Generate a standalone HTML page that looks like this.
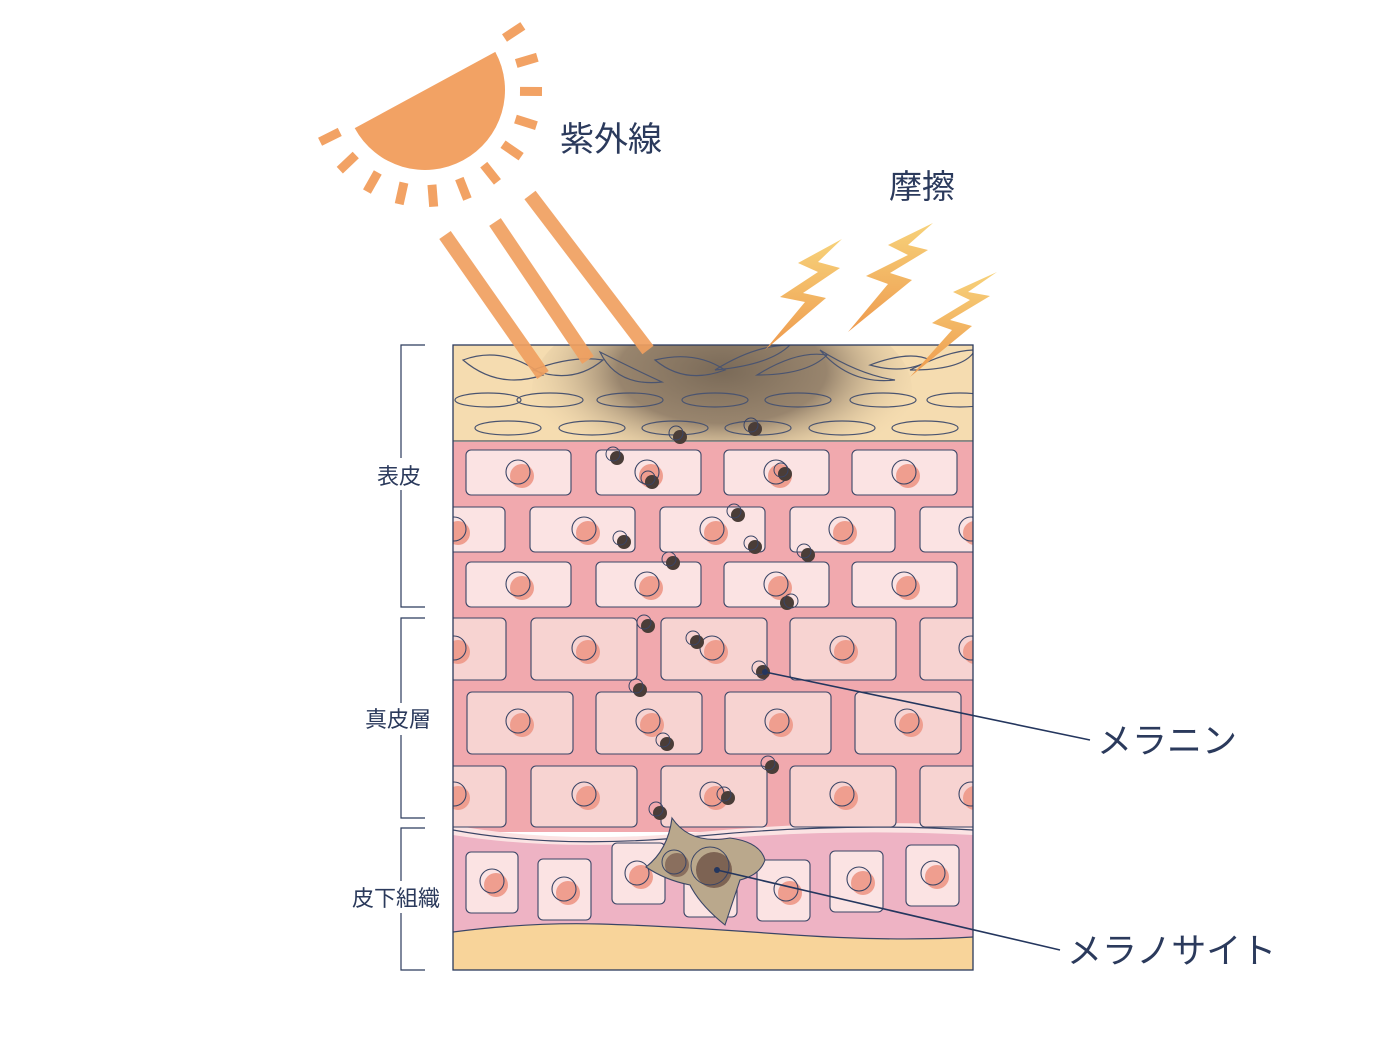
<!DOCTYPE html>
<html><head><meta charset="utf-8"><style>
html,body{margin:0;padding:0;background:#fff}
svg{display:block}
text{font-family:"Liberation Sans","Noto Sans CJK JP",sans-serif;fill:#2b3a5c}
</style></head><body>
<svg width="1400" height="1050" viewBox="0 0 1400 1050" xmlns="http://www.w3.org/2000/svg">
<defs>
<linearGradient id="bolt" x1="0" y1="0" x2="0" y2="1"><stop offset="0" stop-color="#f7d27a"/><stop offset="1" stop-color="#ee9a4e"/></linearGradient>
<radialGradient id="dark" cx="0.5" cy="0.4" r="0.55"><stop offset="0" stop-color="#7a6a58" stop-opacity="1"/><stop offset="0.5" stop-color="#8e7b66" stop-opacity="0.9"/><stop offset="1" stop-color="#f5dcb0" stop-opacity="0"/></radialGradient>
<clipPath id="box"><rect x="453" y="345" width="520" height="625"/></clipPath>
<clipPath id="top"><rect x="453" y="345" width="520" height="96"/></clipPath>
</defs>

<!-- sun -->
<g transform="translate(425,90) rotate(-28.5)">
<path d="M-80,0 A80,80 0 0 0 80,0 Z" fill="#f2a264"/>
<g fill="#f2a264">
<rect x="95" y="-4" width="22" height="9" transform="rotate(-5)"/>
<rect x="95" y="-4" width="22" height="9" transform="rotate(12)"/>
<rect x="95" y="-4" width="22" height="9" transform="rotate(29)"/>
<rect x="95" y="-4" width="22" height="9" transform="rotate(46)"/>
<rect x="95" y="-4" width="22" height="9" transform="rotate(63)"/>
<rect x="95" y="-4" width="22" height="9" transform="rotate(80)"/>
<rect x="95" y="-4" width="22" height="9" transform="rotate(97)"/>
<rect x="95" y="-4" width="22" height="9" transform="rotate(114)"/>
<rect x="95" y="-4" width="22" height="9" transform="rotate(131)"/>
<rect x="95" y="-4" width="22" height="9" transform="rotate(148)"/>
<rect x="95" y="-4" width="22" height="9" transform="rotate(165)"/>
<rect x="95" y="-4" width="22" height="9" transform="rotate(182)"/>
</g>
</g>
<text x="560" y="151" font-size="34">紫外線</text>
<text x="889" y="198" font-size="33">摩擦</text>

<!-- skin -->
<g clip-path="url(#box)">
<rect x="453" y="345" width="520" height="96" fill="#f5dcb0"/>
<g clip-path="url(#top)"><ellipse cx="722" cy="390" rx="190" ry="95" fill="url(#dark)"/></g>
<g fill="none" stroke="#4a5470" stroke-width="1.2">
<path d="M463,360 q40,-15 80,15 q-45,15 -80,-15z"/><path d="M533,370 q40,-15 70,-10 q-30,25 -70,10z"/>
<path d="M600,352 q40,20 62,30 q-45,5 -62,-30z"/><path d="M655,360 q40,-10 70,10 q-40,15 -70,-10z"/>
<path d="M715,370 q40,-25 75,-25 q-20,20 -75,25z"/><path d="M757,375 q40,-25 70,-20 q-20,20 -70,20z"/>
<path d="M820,350 q40,25 75,30 q-45,5 -75,-30z"/><path d="M870,365 q40,-15 60,-5 q-25,15 -60,5z"/><path d="M910,370 q40,-20 65,-20 q-10,20 -65,20z"/>
<ellipse cx="488" cy="400" rx="33" ry="7"/><ellipse cx="550" cy="400" rx="33" ry="7"/><ellipse cx="630" cy="400" rx="33" ry="7"/><ellipse cx="715" cy="400" rx="33" ry="7"/><ellipse cx="798" cy="400" rx="33" ry="7"/><ellipse cx="883" cy="400" rx="33" ry="7"/><ellipse cx="960" cy="400" rx="33" ry="7"/>
<ellipse cx="508" cy="428" rx="33" ry="7"/><ellipse cx="592" cy="428" rx="33" ry="7"/><ellipse cx="675" cy="428" rx="33" ry="7"/><ellipse cx="758" cy="428" rx="33" ry="7"/><ellipse cx="842" cy="428" rx="33" ry="7"/><ellipse cx="925" cy="428" rx="33" ry="7"/>
</g>
<line x1="453" y1="441" x2="973" y2="441" stroke="#6a6a6a" stroke-width="1.5"/>
<rect x="453" y="442" width="520" height="390" fill="#f1a9ae"/>
<!-- subcutaneous -->
<path d="M453,825 Q560,845 700,832 T973,825 L973,970 L453,970Z" fill="#fbe3e3"/>
<path d="M453,835 Q560,852 700,840 T973,835 L973,970 L453,970Z" fill="#eeb3c4"/>
<path d="M453,932 Q530,922 600,924 T780,934 T973,937 L973,970 L453,970Z" fill="#f8d49a"/>
<path d="M453,830 Q560,850 700,836 T973,830" fill="none" stroke="#3a4566" stroke-width="1.2"/>
<path d="M453,932 Q530,922 600,924 T780,934 T973,937" fill="none" stroke="#3a4566" stroke-width="1.2"/>
<g stroke="#3a4566" stroke-width="1.1">
<g fill="#fbe3e3">
<rect x="466" y="450" width="105" height="45" rx="5"/><rect x="596" y="450" width="105" height="45" rx="5"/><rect x="724" y="450" width="105" height="45" rx="5"/><rect x="852" y="450" width="105" height="45" rx="5"/>
<rect x="400" y="507" width="105" height="45" rx="5"/><rect x="530" y="507" width="105" height="45" rx="5"/><rect x="660" y="507" width="105" height="45" rx="5"/><rect x="790" y="507" width="105" height="45" rx="5"/><rect x="920" y="507" width="105" height="45" rx="5"/>
<rect x="466" y="562" width="105" height="45" rx="5"/><rect x="596" y="562" width="105" height="45" rx="5"/><rect x="724" y="562" width="105" height="45" rx="5"/><rect x="852" y="562" width="105" height="45" rx="5"/>
</g>
<g fill="#f7d3d1">
<rect x="400" y="618" width="106" height="62" rx="5"/><rect x="531" y="618" width="106" height="62" rx="5"/><rect x="661" y="618" width="106" height="62" rx="5"/><rect x="790" y="618" width="106" height="62" rx="5"/><rect x="920" y="618" width="106" height="62" rx="5"/>
<rect x="467" y="692" width="106" height="62" rx="5"/><rect x="596" y="692" width="106" height="62" rx="5"/><rect x="725" y="692" width="106" height="62" rx="5"/><rect x="855" y="692" width="106" height="62" rx="5"/>
<rect x="400" y="766" width="106" height="61" rx="5"/><rect x="531" y="766" width="106" height="61" rx="5"/><rect x="661" y="766" width="106" height="61" rx="5"/><rect x="790" y="766" width="106" height="61" rx="5"/><rect x="920" y="766" width="106" height="61" rx="5"/>
</g>
<g fill="#fbe3e3">
<rect x="466" y="852" width="52" height="61" rx="5"/><rect x="538" y="859" width="53" height="61" rx="5"/><rect x="612" y="843" width="53" height="61" rx="5"/><rect x="684" y="862" width="53" height="55" rx="5"/><rect x="757" y="860" width="53" height="61" rx="5"/><rect x="830" y="851" width="53" height="61" rx="5"/><rect x="906" y="845" width="53" height="61" rx="5"/>
</g>
</g>
<g fill="#ef9e8f">
<circle cx="522" cy="476" r="12"/><circle cx="651" cy="476" r="12"/><circle cx="780" cy="476" r="12"/><circle cx="908" cy="476" r="12"/>
<circle cx="458" cy="533" r="12"/><circle cx="588" cy="533" r="12"/><circle cx="716" cy="533" r="12"/><circle cx="845" cy="533" r="12"/><circle cx="975" cy="533" r="12"/>
<circle cx="522" cy="588" r="12"/><circle cx="651" cy="588" r="12"/><circle cx="780" cy="588" r="12"/><circle cx="908" cy="588" r="12"/>
<circle cx="458" cy="652" r="12"/><circle cx="588" cy="652" r="12"/><circle cx="716" cy="652" r="12"/><circle cx="846" cy="652" r="12"/><circle cx="975" cy="652" r="12"/>
<circle cx="522" cy="725" r="12"/><circle cx="652" cy="725" r="12"/><circle cx="781" cy="725" r="12"/><circle cx="911" cy="725" r="12"/>
<circle cx="458" cy="798" r="12"/><circle cx="588" cy="798" r="12"/><circle cx="716" cy="798" r="12"/><circle cx="846" cy="798" r="12"/><circle cx="975" cy="798" r="12"/>
<circle cx="496" cy="885" r="12"/><circle cx="568" cy="893" r="12"/><circle cx="641" cy="877" r="12"/><circle cx="790" cy="893" r="12"/><circle cx="863" cy="883" r="12"/><circle cx="937" cy="877" r="12"/>
</g>
<g fill="none" stroke="#3a4566" stroke-width="1.1">
<circle cx="518" cy="472" r="12"/><circle cx="647" cy="472" r="12"/><circle cx="776" cy="472" r="12"/><circle cx="904" cy="472" r="12"/>
<circle cx="454" cy="529" r="12"/><circle cx="584" cy="529" r="12"/><circle cx="712" cy="529" r="12"/><circle cx="841" cy="529" r="12"/><circle cx="971" cy="529" r="12"/>
<circle cx="518" cy="584" r="12"/><circle cx="647" cy="584" r="12"/><circle cx="776" cy="584" r="12"/><circle cx="904" cy="584" r="12"/>
<circle cx="454" cy="648" r="12"/><circle cx="584" cy="648" r="12"/><circle cx="712" cy="648" r="12"/><circle cx="842" cy="648" r="12"/><circle cx="971" cy="648" r="12"/>
<circle cx="518" cy="721" r="12"/><circle cx="648" cy="721" r="12"/><circle cx="777" cy="721" r="12"/><circle cx="907" cy="721" r="12"/>
<circle cx="454" cy="794" r="12"/><circle cx="584" cy="794" r="12"/><circle cx="712" cy="794" r="12"/><circle cx="842" cy="794" r="12"/><circle cx="971" cy="794" r="12"/>
<circle cx="492" cy="881" r="12"/><circle cx="564" cy="889" r="12"/><circle cx="637" cy="873" r="12"/><circle cx="786" cy="889" r="12"/><circle cx="859" cy="879" r="12"/><circle cx="933" cy="873" r="12"/>
</g>
<!-- melanocyte -->
<path d="M672,818 Q690,845 730,838 Q760,842 765,860 Q760,875 740,880 Q735,895 725,925 Q700,905 690,885 Q665,880 646,867 Q668,850 672,818Z" fill="#baa88c" stroke="#3a4566" stroke-width="1.1"/>
<circle cx="677" cy="865" r="12" fill="#8a6f5e"/><circle cx="674" cy="862" r="12" fill="none" stroke="#3a4566"/>
<circle cx="714" cy="870" r="18" fill="#7d6353"/><circle cx="710" cy="866" r="19" fill="none" stroke="#3a4566"/>
</g>
<rect x="453" y="345" width="520" height="625" fill="none" stroke="#2b3a5c" stroke-width="1.3"/>

<!-- UV beams -->
<g stroke="#f0a060" stroke-width="14" opacity="0.92">
<line x1="445" y1="235" x2="543" y2="375"/><line x1="495" y1="222" x2="588" y2="360"/><line x1="530" y1="195" x2="648" y2="350"/>
</g>
<!-- bolts -->
<g fill="url(#bolt)">
<polygon points="842,239 798,263 818,272 780,297 805,302 765,350 826,298 803,293 840,268 818,262"/>
<polygon points="933,223 888,245 908,255 866,276 888,284 848,332 912,280 890,273 928,250 908,245"/>
<polygon points="997,272 953,292 970,300 932,323 952,330 910,377 972,326 950,320 990,296 968,292"/>
</g>

<!-- melanin -->
<g fill="#4a3d38">
<circle cx="680" cy="437" r="7"/><circle cx="755" cy="429" r="7"/><circle cx="617" cy="458" r="7"/><circle cx="652" cy="482" r="7"/><circle cx="785" cy="474" r="7"/><circle cx="738" cy="515" r="7"/><circle cx="624" cy="542" r="7"/><circle cx="755" cy="547" r="7"/><circle cx="808" cy="555" r="7"/><circle cx="673" cy="563" r="7"/><circle cx="787" cy="603" r="7"/><circle cx="648" cy="626" r="7"/><circle cx="697" cy="642" r="7"/><circle cx="763" cy="672" r="7"/><circle cx="640" cy="690" r="7"/><circle cx="667" cy="744" r="7"/><circle cx="772" cy="767" r="7"/><circle cx="728" cy="798" r="7"/><circle cx="660" cy="813" r="7"/>
</g>
<g fill="none" stroke="#3a4566" stroke-width="1">
<circle cx="676" cy="433" r="7"/><circle cx="751" cy="425" r="7"/><circle cx="613" cy="454" r="7"/><circle cx="648" cy="478" r="7"/><circle cx="781" cy="470" r="7"/><circle cx="734" cy="511" r="7"/><circle cx="620" cy="538" r="7"/><circle cx="751" cy="543" r="7"/><circle cx="804" cy="551" r="7"/><circle cx="669" cy="559" r="7"/><circle cx="791" cy="601" r="7"/><circle cx="644" cy="622" r="7"/><circle cx="693" cy="638" r="7"/><circle cx="759" cy="668" r="7"/><circle cx="636" cy="686" r="7"/><circle cx="663" cy="740" r="7"/><circle cx="768" cy="763" r="7"/><circle cx="724" cy="794" r="7"/><circle cx="656" cy="809" r="7"/>
</g>

<!-- leaders -->
<g stroke="#24365e" stroke-width="1.6">
<line x1="765" y1="672" x2="1090" y2="740"/>
<line x1="717" y1="870" x2="1060" y2="950"/>
</g>
<circle cx="765" cy="672" r="3" fill="#24365e"/><circle cx="717" cy="870" r="3" fill="#24365e"/>
<text x="1097" y="753" font-size="35">メラニン</text>
<text x="1067" y="963" font-size="35">メラノサイト</text>

<!-- brackets -->
<g fill="none" stroke="#2b3a5c" stroke-width="1.2">
<path d="M425,345 H401 V607 H425"/><path d="M425,618 H401 V818 H425"/><path d="M425,828 H401 V970 H425"/>
</g>
<rect x="372" y="458" width="60" height="32" fill="#fff"/>
<rect x="360" y="703" width="80" height="32" fill="#fff"/>
<rect x="348" y="881" width="104" height="32" fill="#fff"/>
<text x="377" y="484" font-size="22">表皮</text>
<text x="365" y="727" font-size="22">真皮層</text>
<text x="352" y="906" font-size="22">皮下組織</text>
</svg>
</body></html>
